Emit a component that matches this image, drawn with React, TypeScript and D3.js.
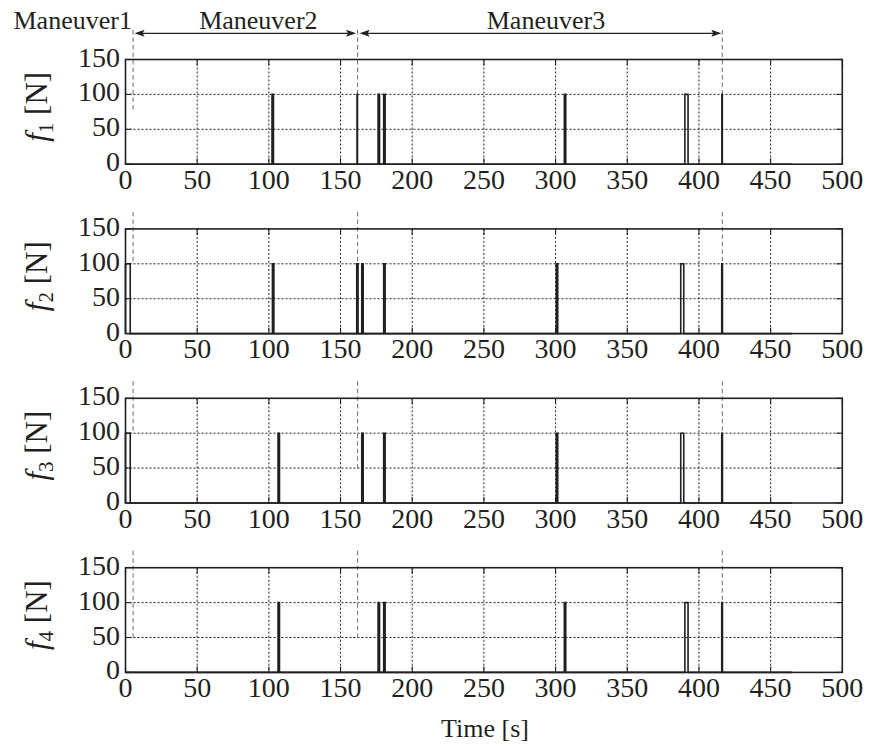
import React from "react";
import * as d3 from "d3";

// ---- data ----
const xTicks = [0, 50, 100, 150, 200, 250, 300, 350, 400, 450, 500];
const yTicks = [0, 50, 100, 150];
const panelNames = ["1", "2", "3", "4"];
const endTime = 465;
const pulseLevel = 100;

// pulses as [start, end] in seconds, value = 100 N
const f1Pulses = [[102.2, 103.2], [161.5, 161.8], [176.2, 177.2], [180.1, 181.1], [306.1, 307.1], [390.2, 392.4], [416.0, 416.3]];
const f2Pulses = [[0, 3.3], [102.5, 103.5], [161.3, 162.2], [164.8, 165.8], [180.1, 181.1], [300.5, 301.5], [387.3, 389.4], [415.9, 416.4]];
const f3Pulses = [[0, 3.3], [106.4, 107.4], [164.8, 165.8], [180.1, 181.1], [300.5, 301.5], [387.3, 389.4], [415.9, 416.4]];
const f4Pulses = [[106.4, 107.4], [176.2, 177.2], [180.1, 181.1], [306.1, 307.1], [390.2, 392.4], [415.9, 416.4]];
const allPulses = [f1Pulses, f2Pulses, f3Pulses, f4Pulses];

// maneuver boundaries (s) and the value where the dashed marker stops in each panel
const boundaries = [5.3, 161.9, 416.3];
const boundaryEnds = [
  [75, 100, 100],
  [100, 50, 100],
  [100, 50, 100],
  [50, 50, 100],
];
const maneuverLabels = ["Maneuver1", "Maneuver2", "Maneuver3"];

// ---- layout ----
const W = 878, H = 749;
const left = 125.5, right = 842.3;
const panelTop0 = 59.5, panelStep = 169.4, panelH = 104.7;
const font = "'Liberation Serif', 'Times New Roman', serif";
const ink = "#231f20";

const x = d3.scaleLinear().domain([0, 500]).range([left, right]);

function stepSeries(pulses: number[][]): [number, number][] {
  const pts: [number, number][] = [[0, 0]];
  pulses.forEach(([s, e]) => {
    pts.push([s, 0], [s, pulseLevel], [e, pulseLevel], [e, 0]);
  });
  pts.push([endTime, 0]);
  return pts;
}

function Panel({ idx }: { idx: number }) {
  const top = panelTop0 + idx * panelStep;
  const bottom = top + panelH;
  const y = d3.scaleLinear().domain([0, 150]).range([bottom, top]);
  const line = d3.line<[number, number]>().x(d => x(d[0])).y(d => y(d[1]));
  const pts = stepSeries(allPulses[idx]);
  const midY = (top + bottom) / 2 - 5;
  const dashStart = idx === 0 ? 30 : top - 17;
  return (
    <g>
      {/* boundary dashed markers */}
      {boundaries.map((b, i) => (
        <line key={"b" + i} x1={x(b)} x2={x(b)} y1={dashStart} y2={y(boundaryEnds[idx][i])}
          stroke="#6d6d6d" strokeWidth={1} strokeDasharray="4.5,3" />
      ))}
      {/* grid */}
      {xTicks.slice(1, -1).map(t => (
        <line key={"gx" + t} x1={x(t)} x2={x(t)} y1={top} y2={bottom} stroke="#222" strokeWidth={1} strokeDasharray="2,2" />
      ))}
      {yTicks.slice(1, -1).map(t => (
        <line key={"gy" + t} x1={left} x2={right} y1={y(t)} y2={y(t)} stroke="#222" strokeWidth={1} strokeDasharray="2,2" />
      ))}
      {/* ticks inward */}
      {xTicks.map(t => (
        <g key={"tx" + t}>
          <line x1={x(t)} x2={x(t)} y1={bottom} y2={bottom - 6} stroke={ink} strokeWidth={1.1} />
          <line x1={x(t)} x2={x(t)} y1={top} y2={top + 6} stroke={ink} strokeWidth={1.1} />
          <text x={x(t)} y={bottom + 24.5} textAnchor="middle" fontFamily={font} fontSize={28} fill={ink}>{t}</text>
        </g>
      ))}
      {yTicks.map(t => (
        <g key={"ty" + t}>
          <line x1={left} x2={left + 6} y1={y(t)} y2={y(t)} stroke={ink} strokeWidth={1.1} />
          <line x1={right} x2={right - 6} y1={y(t)} y2={y(t)} stroke={ink} strokeWidth={1.1} />
          <text x={120} y={y(t) + 7} textAnchor="end" fontFamily={font} fontSize={28} fill={ink}>{t}</text>
        </g>
      ))}
      {/* signal */}
      <path d={line(pts) || ""} fill="none" stroke={ink} strokeWidth={1.6} />
      {/* box */}
      <rect x={left} y={top} width={right - left} height={panelH} fill="none" stroke={ink} strokeWidth={1.6} />
      {/* y label */}
      <text transform={`translate(47,${midY}) rotate(-90)`} textAnchor="middle" fontFamily={font} fontSize={31} fill={ink}>
        <tspan fontStyle="italic">f</tspan>
        <tspan fontSize={21} dy={6}>{panelNames[idx]}</tspan>
        <tspan dy={-6}> [N]</tspan>
      </text>
    </g>
  );
}

function Arrow({ x1, x2, yy }: { x1: number; x2: number; yy: number }) {
  const L = 10, hw = 3.5;
  return (
    <g>
      <line x1={x1 + 4} x2={x2 - 4} y1={yy} y2={yy} stroke={ink} strokeWidth={1.2} />
      <path d={`M${x1},${yy} L${x1 + L},${yy - hw} L${x1 + L - 2},${yy} L${x1 + L},${yy + hw} Z`} fill={ink} />
      <path d={`M${x2},${yy} L${x2 - L},${yy - hw} L${x2 - L + 2},${yy} L${x2 - L},${yy + hw} Z`} fill={ink} />
    </g>
  );
}

export default function App() {
  const arrowY = 33.3;
  const labelCenters = [72.7, (x(boundaries[0]) + x(boundaries[1])) / 2 + 13, (x(boundaries[1]) + x(boundaries[2])) / 2 + 6];
  return (
    <div style={{ position: "absolute", left: 0, top: 0 }}>
      <svg width={W} height={H} style={{ display: "block", background: "#fff" }}>
        {panelNames.map((_, i) => <Panel key={i} idx={i} />)}
        <Arrow x1={x(boundaries[0]) + 1.5} x2={x(boundaries[1]) - 1.5} yy={arrowY} />
        <Arrow x1={x(boundaries[1]) + 2} x2={x(boundaries[2]) - 1} yy={arrowY} />
        {maneuverLabels.map((m, i) => (
          <text key={m} x={labelCenters[i]} y={29} textAnchor="middle" fontFamily={font} fontSize={26} fill={ink}>{m}</text>
        ))}
        <text x={485} y={737} textAnchor="middle" fontFamily={font} fontSize={26} fill={ink}>Time [s]</text>
      </svg>
    </div>
  );
}
